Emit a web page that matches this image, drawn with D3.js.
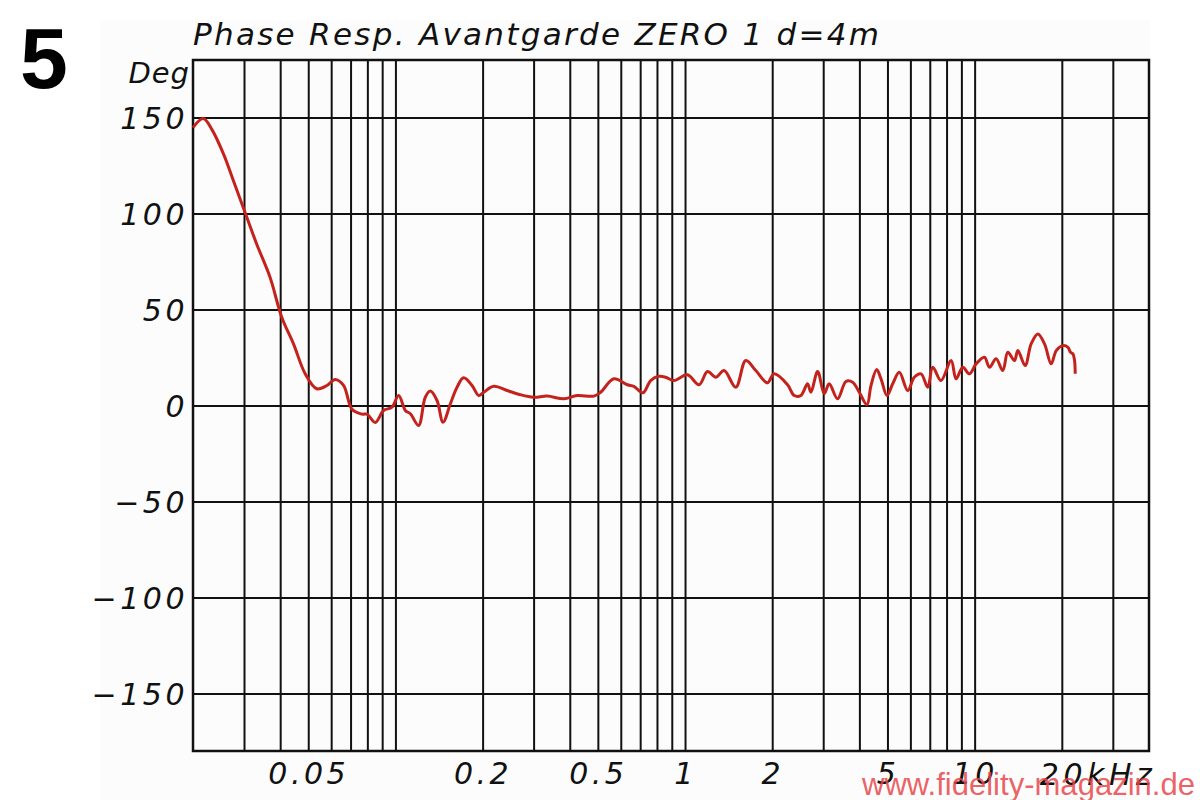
<!DOCTYPE html>
<html>
<head>
<meta charset="utf-8">
<script src="https://cdn.jsdelivr.net/npm/d3@7"></script>
<style>
  html, body { margin: 0; padding: 0; background: #ffffff; }
  svg { display: block; }
</style>
</head>
<body>
<svg id="chart" width="1200" height="800"></svg>
<script>
// ---- data ----
const chartNumber = "5";
const titleText = "Phase Resp. Avantgarde ZERO 1 d=4m";
const yUnit = "Deg";
const watermark = "www.fidelity-magazin.de";

const freqKHz = [
  0.0200, 0.0217, 0.0232, 0.0255, 0.0276, 0.0307, 0.0332, 0.0369, 0.0405, 0.0445,
  0.0488, 0.0535, 0.0580, 0.0619, 0.0662, 0.0708, 0.0766, 0.0797, 0.0852, 0.0910,
  0.0973, 0.1026, 0.1082, 0.1126, 0.1202, 0.1268, 0.1320, 0.1392, 0.1460, 0.1548,
  0.1632, 0.1720, 0.1839, 0.1939, 0.2018, 0.2185, 0.2430, 0.2702, 0.3004, 0.3342,
  0.3816, 0.4244, 0.4846, 0.5110, 0.568, 0.632, 0.666, 0.716, 0.761, 0.813,
  0.857, 0.916, 1.019, 1.118, 1.195, 1.277, 1.364, 1.497, 1.621, 1.755,
  1.926, 2.030, 2.260, 2.382, 2.512, 2.649, 2.720, 2.870, 3.024, 3.146,
  3.364, 3.594, 3.792, 3.996, 4.248, 4.386, 4.590, 4.750, 4.980, 5.212,
  5.494, 5.874, 6.190, 6.530, 6.888, 7.168, 7.656, 8.294, 8.630, 9.100,
  9.594, 10.12, 10.81, 11.25, 11.86, 12.51, 13.02, 13.72, 14.10, 14.94,
  15.67, 16.53, 17.43, 18.38, 19.13, 20.18, 21.00, 21.44, 21.85, 22.13,
  22.25
];
const phaseDeg = [
  144.8, 149.5, 144.0, 131.0, 117.0, 98.0, 84.0, 66.8, 46.0, 32.0,
  16.5, 8.7, 10.4, 13.6, 10.5, -2.0, -4.5, -4.5, -8.8, -2.6,
  -0.9, 5.2, -2.6, -4.3, -10.4, 4.3, 7.5, 2.6, -8.7, 0.9,
  9.5, 14.4, 10.4, 5.2, 6.9, 10.0, 7.8, 5.6, 4.3, 4.9,
  3.5, 5.2, 4.9, 6.9, 13.9, 10.8, 10.0, 6.6, 13.0, 15.2,
  14.7, 13.0, 16.0, 10.8, 17.7, 14.7, 18.2, 9.5, 23.4, 18.2,
  11.8, 16.5, 10.8, 5.2, 5.2, 11.3, 6.9, 17.7, 6.1, 11.3,
  3.5, 12.5, 12.1, 6.9, 0.4, 10.4, 18.7, 13.9, 5.2, 11.3,
  17.3, 7.8, 14.7, 16.5, 9.5, 19.9, 13.0, 23.4, 13.9, 19.9,
  16.5, 21.7, 25.1, 19.9, 24.3, 18.2, 27.7, 23.4, 28.6, 20.8,
  32.1, 37.3, 32.1, 21.7, 28.6, 31.2, 30.3, 27.7, 26.9, 23.4,
  16.5
];

const yTicks = [-150, -100, -50, 0, 50, 100, 150];
const xGridKHz = [0.03,0.04,0.05,0.06,0.07,0.08,0.09,
                  0.1,0.2,0.3,0.4,0.5,0.6,0.7,0.8,0.9,
                  1,2,3,4,5,6,7,8,9,
                  10,20,30];
const xLabelKHz = [0.05, 0.2, 0.5, 1, 2, 5, 10];
const xLabelText = ["0.05", "0.2", "0.5", "1", "2", "5", "10"];
const xLastLabelKHz = 20;
const xLastLabelText = "20kHz";
const xDomain = [0.02, 40];
const yDomain = [-180, 180];

// ---- layout ----
const svg = d3.select("#chart");
const mLeft = 193, mRight = 1149, mTop = 60, mBottom = 751;
const W = mRight - mLeft, H = mBottom - mTop;

// faint page panel
svg.append("rect").attr("x", 100).attr("y", 20).attr("width", 1050).attr("height", 780)
  .attr("fill", "#fcfcfc");

const x = d3.scaleLog().domain(xDomain).range([0, W]);
const y = d3.scaleLinear().domain(yDomain).range([H, 0]);

const g = svg.append("g").attr("transform", `translate(${mLeft},${mTop})`);

const labelFont = "'DejaVu Sans', 'Liberation Sans', sans-serif";

// vertical grid
const xGrid = g.append("g").attr("transform", `translate(0,${H})`)
  .call(d3.axisBottom(x).tickValues(xGridKHz).tickSize(-H).tickFormat(""));
xGrid.select(".domain").remove();
xGrid.selectAll("line").attr("stroke", "#111").attr("stroke-width", 2);

// horizontal grid + y labels
const yAxis = g.append("g")
  .call(d3.axisLeft(y).tickValues(yTicks).tickSize(-W).tickPadding(5)
    .tickFormat(d => d < 0 ? "\u2212" + Math.abs(d) : String(d)));
yAxis.select(".domain").remove();
yAxis.selectAll("line").attr("stroke", "#111").attr("stroke-width", 2);
yAxis.selectAll("text")
  .attr("font-family", labelFont).attr("font-style", "italic")
  .attr("font-size", 30).attr("fill", "#111").attr("letter-spacing", 3.5)
  .attr("dy", "0.36em");

// x labels
const xLab = g.append("g").attr("transform", `translate(0,${H})`)
  .call(d3.axisBottom(x).tickValues(xLabelKHz).tickSize(0).tickPadding(12)
    .tickFormat((d, i) => xLabelText[i]));
xLab.select(".domain").remove();
xLab.selectAll("text")
  .attr("font-family", labelFont).attr("font-style", "italic")
  .attr("font-size", 30).attr("fill", "#111").attr("letter-spacing", 3.5)
  .attr("dy", "0.71em");

g.append("text")
  .attr("x", x(xLastLabelKHz) - 22).attr("y", H + 34)
  .attr("font-family", labelFont).attr("font-style", "italic")
  .attr("font-size", 30).attr("fill", "#111")
  .attr("textLength", 112).attr("lengthAdjust", "spacing")
  .text(xLastLabelText);

// frame
g.append("rect").attr("x", 0).attr("y", 0).attr("width", W).attr("height", H)
  .attr("fill", "none").attr("stroke", "#111").attr("stroke-width", 2.5);

// curve
const data = freqKHz.map((f, i) => [f, phaseDeg[i]]);
const line = d3.line()
  .x(d => x(d[0])).y(d => y(d[1]))
  .curve(d3.curveCatmullRom.alpha(0.5));
g.append("path").datum(data)
  .attr("d", line)
  .attr("fill", "none").attr("stroke", "#c4221c").attr("stroke-width", 3)
  .attr("stroke-linejoin", "round");

// title
svg.append("text")
  .attr("x", 193).attr("y", 45)
  .attr("font-family", labelFont).attr("font-style", "italic")
  .attr("font-size", 31).attr("fill", "#111")
  .attr("textLength", 686).attr("lengthAdjust", "spacing")
  .text(titleText);

// unit label
svg.append("text")
  .attr("x", 190).attr("y", 83).attr("text-anchor", "end")
  .attr("font-family", labelFont).attr("font-style", "italic")
  .attr("font-size", 29).attr("fill", "#111").attr("letter-spacing", 1)
  .text(yUnit);

// chart number
svg.append("text")
  .attr("x", 20).attr("y", 88)
  .attr("font-family", "'Liberation Sans', Arial, sans-serif").attr("font-weight", "bold")
  .attr("font-size", 86).attr("fill", "#000")
  .text(chartNumber);

// watermark
svg.append("text")
  .attr("x", 862).attr("y", 795)
  .attr("font-family", "'Liberation Sans', Arial, sans-serif")
  .attr("font-size", 32).attr("fill", "#e8474b").attr("fill-opacity", 0.85)
  .attr("textLength", 333).attr("lengthAdjust", "spacingAndGlyphs")
  .text(watermark);
</script>
</body>
</html>
